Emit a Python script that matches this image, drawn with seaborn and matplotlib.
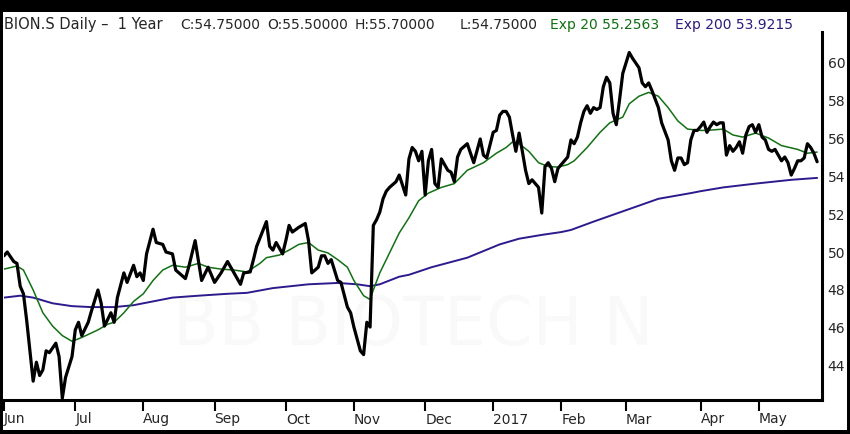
import pandas as pd
import seaborn as sns
import matplotlib.pyplot as plt
from matplotlib.patches import Rectangle

# trading-day index (0 = 1 Jun 2016) and daily close
close_day = [0, 1, 3, 4, 5, 6, 7, 9, 10, 11, 12, 13, 14, 16, 17, 18, 19, 21, 22, 23,
             24, 26, 27, 29, 30, 31, 33, 34, 35, 37, 38, 40, 41, 42, 43, 44, 46, 47, 49, 50,
             52, 53, 54, 56, 57, 59, 61, 63, 65, 67, 69, 71, 73, 74, 76, 77, 78, 81, 82, 83,
             84, 86, 87, 88, 89, 91, 93, 94, 95, 96, 97, 98, 99, 100, 101, 102, 103, 104, 106, 107,
             108, 110, 111, 112, 113, 114, 115, 116, 117, 118, 119, 121, 122, 124, 125, 126, 127, 128, 129, 130,
             131, 132, 133, 134, 135, 137, 138, 139, 140, 141, 143, 144, 145, 147, 148, 149, 151, 152, 153, 154,
             155, 156, 157, 158, 159, 160, 161, 162, 163, 165, 166, 167, 168, 169, 170, 171, 172, 173, 174, 175,
             176, 177, 178, 179, 180, 181, 182, 183, 184, 185, 186, 187, 188, 189, 190, 191, 193, 194, 195, 196,
             197, 198, 199, 200, 202, 203, 205, 206, 207, 208, 209, 210, 211, 212, 213, 214, 215, 216, 217, 218,
             219, 220, 221, 222, 223, 224, 225, 226, 227, 228, 229, 230, 231, 232, 233, 234, 235, 236, 237, 238,
             239, 240, 241, 242, 243, 244, 245, 246, 247, 248, 249, 250, 251]
close_px = [49.8, 50.0, 49.5, 49.4, 48.2, 47.8, 46.4, 43.2, 44.2, 43.5, 43.8, 44.8, 44.7, 45.2, 44.5, 42.3, 43.4, 44.5, 45.9, 46.3,
            45.6, 46.3, 46.9, 48.0, 47.3, 46.1, 46.8, 46.3, 47.6, 48.9, 48.4, 49.3, 48.7, 48.9, 48.5, 49.9, 51.2, 50.5, 50.4, 50.0,
            49.9, 49.05, 48.9, 48.6, 49.2, 50.6, 48.5, 49.2, 48.4, 48.9, 49.5, 48.9, 48.3, 48.9, 48.95, 49.6, 50.3, 51.6, 50.3, 50.1,
            50.5, 49.9, 50.6, 51.4, 51.05, 51.3, 51.5, 50.6, 48.9, 49.05, 49.2, 49.8, 49.8, 49.4, 49.6, 49.05, 48.5, 48.4, 47.1, 46.8,
            46.05, 44.8, 44.6, 46.3, 46.05, 51.4, 51.7, 52.1, 52.8, 53.2, 53.4, 53.7, 54.05, 53.0, 54.9, 55.5, 55.3, 54.8, 55.3, 53.0,
            54.8, 55.4, 53.6, 53.4, 54.9, 54.3, 54.2, 53.7, 55.0, 55.4, 55.7, 55.2, 54.7, 55.95, 55.1, 54.95, 56.3, 56.4, 57.2, 57.4,
            57.4, 57.1, 56.16, 55.3, 56.26, 55.3, 54.3, 53.6, 53.8, 53.4, 52.05, 54.5, 54.7, 54.4, 53.7, 54.4, 54.6, 54.8, 55.0, 55.9,
            55.7, 56.05, 56.8, 57.4, 57.7, 57.3, 57.6, 57.5, 57.6, 58.7, 59.2, 58.9, 57.3, 56.7, 58.0, 59.4, 60.5, 60.2, 59.95, 59.7,
            58.9, 58.7, 58.9, 58.5, 57.6, 56.8, 55.9, 54.8, 54.3, 54.95, 54.95, 54.6, 54.7, 55.9, 56.4, 56.4, 56.6, 56.84, 56.3, 56.6,
            56.84, 56.7, 56.8, 56.8, 55.1, 55.6, 55.3, 55.5, 55.8, 55.2, 56.16, 56.6, 56.7, 56.3, 56.7, 56.05, 55.9, 55.4, 55.3, 55.4,
            55.1, 54.8, 55.0, 54.7, 54.05, 54.4, 54.8, 54.8, 54.95, 55.7, 55.5, 55.2, 54.75]

ema20_day = [0, 4, 6, 9, 12, 15, 18, 21, 24, 29, 32, 34, 37, 40, 43, 46, 49, 52, 56, 60,
             63, 67, 71, 75, 79, 81, 85, 88, 91, 94, 97, 100, 103, 106, 108, 111, 113, 114, 116, 119,
             122, 125, 128, 131, 135, 139, 143, 148, 152, 155, 157, 159, 162, 165, 168, 171, 174, 176, 180, 184,
             187, 191, 193, 196, 199, 202, 205, 208, 211, 215, 217, 222, 225, 228, 232, 236, 240, 245, 248, 251]
ema20_px = [49.1, 49.26, 49.05, 48.0, 46.8, 46.1, 45.6, 45.3, 45.5, 45.9, 46.2, 46.3, 46.8, 47.4, 47.8, 48.5, 49.05, 49.3, 49.2, 49.4,
            49.2, 49.1, 49.05, 48.95, 49.4, 49.7, 49.84, 50.1, 50.4, 50.5, 50.1, 49.95, 49.6, 49.2, 48.5, 47.7, 47.5, 48.0, 48.9, 49.95,
            51.0, 51.8, 52.7, 53.1, 53.4, 53.6, 54.3, 54.7, 55.2, 55.5, 55.8, 55.7, 55.3, 54.7, 54.5, 54.47, 54.6, 54.8, 55.5, 56.3,
            56.8, 57.1, 57.8, 58.2, 58.4, 58.2, 57.6, 56.9, 56.47, 56.4, 56.4, 56.47, 56.16, 56.05, 56.26, 56.0, 55.6, 55.4, 55.2, 55.26]

ema200_day = [0, 5, 9, 15, 21, 27, 34, 40, 46, 52, 60, 69, 75, 83, 94, 103, 109, 113, 116, 122,
              125, 132, 143, 153, 159, 166, 172, 175, 182, 192, 202, 212, 215, 222, 232, 243, 251]
ema200_px = [47.6, 47.7, 47.6, 47.3, 47.15, 47.1, 47.1, 47.2, 47.4, 47.6, 47.7, 47.8, 47.85, 48.1, 48.3, 48.37, 48.3, 48.2, 48.3, 48.7,
             48.8, 49.2, 49.7, 50.4, 50.7, 50.9, 51.05, 51.16, 51.6, 52.2, 52.8, 53.1, 53.2, 53.4, 53.6, 53.8, 53.9]

month_pos = [0, 22, 43, 65, 87, 108, 130, 151, 172, 192, 215, 233]
month_lbl = ["Jun", "Jul", "Aug", "Sep", "Oct", "Nov", "Dec", "2017", "Feb", "Mar", "Apr", "May"]
price_ticks = [44, 46, 48, 50, 52, 54, 56, 58, 60]

sns.set_style("white")
plt.rcParams["font.family"] = ["DejaVu Sans"]

W, H = 850, 434
fig = plt.figure(figsize=(W / 100, H / 100), dpi=100, facecolor="black")
# white card inside the black frame
fig.patches.append(Rectangle((3 / W, 4 / H), 844 / W, 418 / H, transform=fig.transFigure,
                             facecolor="white", edgecolor="none", zorder=0))
ax = fig.add_axes([4 / W, 34 / H, 818 / W, 368 / H])
ax.set_zorder(2)
ax.set_facecolor("none")

# faint watermark
ax.text(0.5, 0.2, "BB BIOTECH N", transform=ax.transAxes, ha="center", va="center",
        fontsize=48, color="#f9f9f9", zorder=0)

sns.lineplot(x=ema200_day, y=ema200_px, ax=ax, color="#2e1a8c", linewidth=1.4, zorder=2)
sns.lineplot(x=ema20_day, y=ema20_px, ax=ax, color="#137015", linewidth=1.1, zorder=3)
sns.lineplot(x=close_day, y=close_px, ax=ax, color="black", linewidth=2.3, zorder=4)

ax.set_xlim(0, 252.5)
ax.set_ylim(42.21, 61.58)
ax.set_xlabel("")
ax.set_ylabel("")

ax.set_xticks(month_pos)
ax.set_xticklabels(month_lbl)
for lbl in ax.get_xticklabels():
    lbl.set_horizontalalignment("left")
ax.tick_params(axis="x", bottom=True, direction="out", length=8, width=1.5, pad=1,
               labelsize=10, color="black")

ax.yaxis.tick_right()
ax.set_yticks(price_ticks)
ax.tick_params(axis="y", length=0, pad=4, labelsize=10)

for side in ["top", "left"]:
    ax.spines[side].set_visible(False)
for side in ["right", "bottom"]:
    ax.spines[side].set_visible(True)
    ax.spines[side].set_color("black")
    ax.spines[side].set_linewidth(2.2)

# header line
yb = 1 - 29 / H
fig.text(4 / W, yb, "BION.S Daily \u2013  1 Year", fontsize=10.5, va="baseline")
fig.text(180 / W, yb, "C:54.75000", fontsize=10, va="baseline")
fig.text(267 / W, yb, "O:55.50000", fontsize=10, va="baseline")
fig.text(355 / W, yb, "H:55.70000", fontsize=10, va="baseline")
fig.text(460 / W, yb, "L:54.75000", fontsize=10, va="baseline")
fig.text(550 / W, yb, "Exp 20 55.2563", fontsize=10, va="baseline", color="#0f6e12")
fig.text(675 / W, yb, "Exp 200 53.9215", fontsize=10, va="baseline", color="#2e1a7c")

fig.savefig("out.png", dpi=100, facecolor="black")
